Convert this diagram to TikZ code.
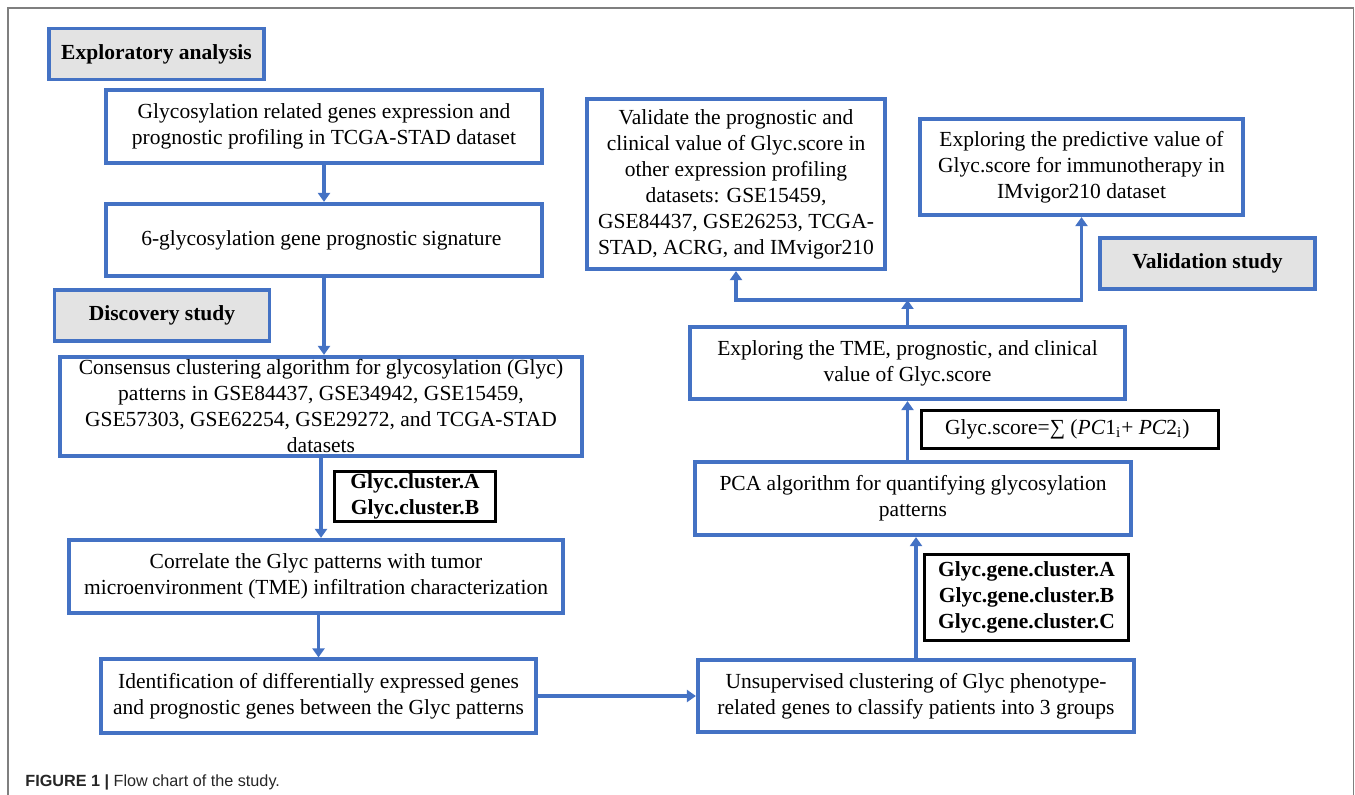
\documentclass[tikz,border=0pt]{standalone}
\usepackage{fontspec}
\setmainfont{Liberation Serif}
\newfontfamily\legende{Liberation Sans}
\usetikzlibrary{arrows.meta}
\definecolor{bleu}{HTML}{4472C4}
\definecolor{gris}{HTML}{E3E3E3}
\definecolor{cadre}{HTML}{7F7F7F}

\begin{document}
\begin{tikzpicture}[x=0.5pt, y=-0.5pt,
    boite/.style={draw=bleu, line width=1.9pt, fill=white, align=center, inner sep=0pt,
        font=\fontsize{10.75}{13}\selectfont},
    titre/.style={boite, fill=gris, font=\fontsize{10.75}{13}\selectfont\bfseries,
        minimum width=107.5pt, minimum height=25.5pt},
    groupe/.style={draw=black, line width=1.6pt, align=center, inner sep=0pt,
        font=\fontsize{10.75}{13}\selectfont},
    fleche/.style={bleu, line width=1.7pt, -{Triangle[width=6pt,length=4.5pt]}}
]
\useasboundingbox (0,0) rectangle (1355,795);

%cadre

\draw[cadre, line width=0.8pt] (8,795) -- (8,8) -- (1353.5,8) -- (1353.5,795);

%analyse exploratoire

\node[titre] (explor) at (156.5,54) {Exploratory analysis};
\node[boite, minimum width=217.7pt, minimum height=36.7pt] (glyprof) at (324,126.5) {
    Glycosylation related genes expression and\\
    prognostic profiling in TCGA-STAD dataset
};
\node[boite, minimum width=217.7pt, minimum height=36.2pt] (signature) at (324,240) {
    6-glycosylation gene prognostic signature
};

%étude de découverte

\node[titre] (discov) at (162,315.5) {Discovery study};
\node[boite, minimum width=261.2pt, minimum height=49.7pt] (consensus) at (321,406.5) {
    Consensus clustering algorithm for glycosylation (Glyc)\\
    patterns in GSE84437, GSE34942, GSE15459,\\
    GSE57303, GSE62254, GSE29272, and TCGA-STAD\\
    datasets
};
\node[groupe, font=\fontsize{10.75}{13}\selectfont\bfseries,
    minimum width=80.4pt, minimum height=24.9pt] (glycclus) at (415,496.5) {
    Glyc.cluster.A\\
    Glyc.cluster.B
};
\node[boite, minimum width=247.2pt, minimum height=36.7pt] (correlate) at (316,576.5) {
    Correlate the Glyc patterns with tumor\\
    microenvironment (TME) infiltration characterization
};
\node[boite, minimum width=217.7pt, minimum height=36.7pt] (identif) at (318.5,696) {
    Identification of differentially expressed genes\\
    and prognostic genes between the Glyc patterns
};
\node[boite, minimum width=218.2pt, minimum height=36.2pt] (unsup) at (916,696) {
    Unsupervised clustering of Glyc phenotype-\\
    related genes to classify patients into 3 groups
};
\node[groupe, font=\fontsize{10.75}{13}\selectfont\bfseries,
    minimum width=101.9pt, minimum height=42.9pt] (genecl) at (1026.5,597.5) {
    Glyc.gene.cluster.A\\
    Glyc.gene.cluster.B\\
    Glyc.gene.cluster.C
};
\node[boite, minimum width=218.2pt, minimum height=36.7pt] (pca) at (913,498.5) {
    PCA algorithm for quantifying glycosylation\\
    patterns
};
\node[groupe, minimum width=148.4pt, minimum height=18.9pt] (score) at (1070,429.5) {
    Glyc.score=∑ (\textit{PC}1\textsubscript{i}+ \textit{PC}2\textsubscript{i})
};
\node[boite, minimum width=217.7pt, minimum height=36.2pt] (tme) at (907.5,363) {
    Exploring the TME, prognostic, and clinical\\
    value of Glyc.score
};

%étude de validation

\node[boite, minimum width=149.2pt, minimum height=85.2pt] (validate) at (736,184) {
    Validate the prognostic and\\
    clinical value of Glyc.score in\\
    other expression profiling\\
    datasets: GSE15459,\\
    GSE84437, GSE26253, TCGA-\\
    STAD, ACRG, and IMvigor210
};
\node[boite, minimum width=161.7pt, minimum height=48.2pt] (predictive) at (1081.5,167) {
    Exploring the predictive value of\\
    Glyc.score for immunotherapy in\\
    IMvigor210 dataset
};
\node[titre] (valid) at (1207.5,263.5) {Validation study};

%flèches

\draw[fleche] (glyprof) -- (signature);
\draw[fleche] (signature.south) -- (signature.south |- consensus.north);
\draw[fleche] (consensus.south) -- (consensus.south |- correlate.north);
\draw[fleche] (identif.north |- correlate.south) -- (identif.north);
\draw[fleche] (identif) -- (unsup);
\draw[fleche] (unsup.north) -- (unsup.north |- pca.south);
\draw[fleche] (tme.south |- pca.north) -- (tme.south);
\coordinate (jonction) at (907.5,300);
\draw[fleche] (tme) -- (jonction);
\draw[fleche] (jonction) -| (validate);
\draw[fleche] (jonction) -| (predictive);

%légende

\node[anchor=base west, inner sep=0pt, font=\legende\fontsize{8.1}{9.5}\selectfont, text=black!85] (caption) at (25,787) {
    \textbf{FIGURE 1 |} Flow chart of the study.
};
\end{tikzpicture}
\end{document}
